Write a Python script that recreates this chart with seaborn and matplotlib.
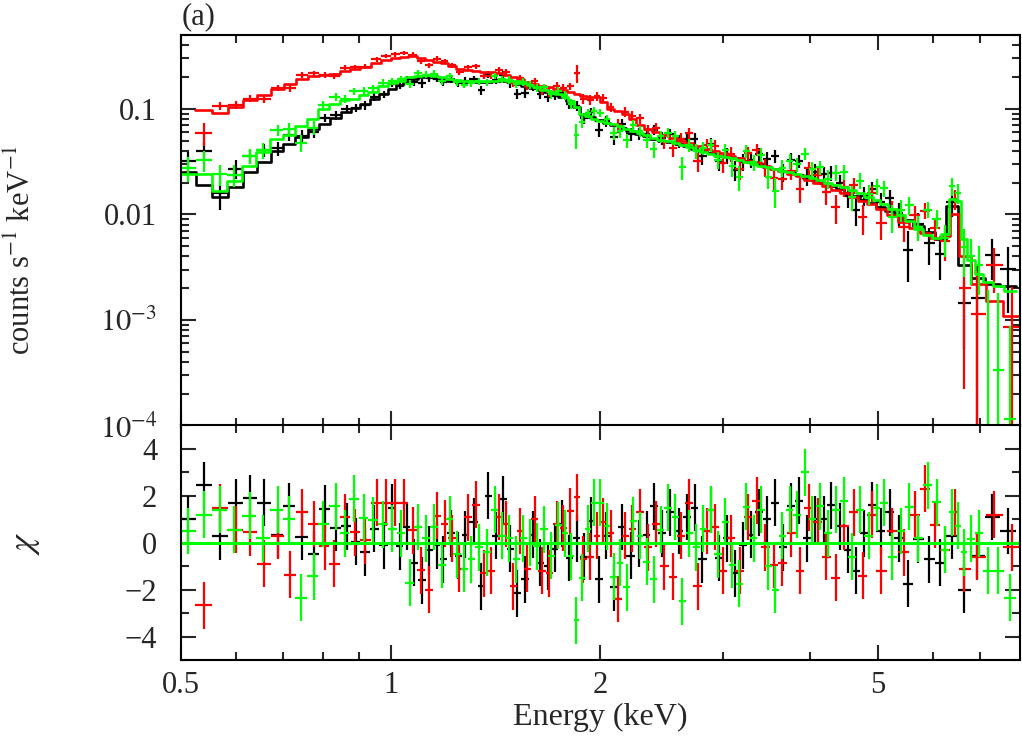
import numpy as np
import matplotlib
matplotlib.use("Agg")
import matplotlib.pyplot as plt
import seaborn as sns
from matplotlib.ticker import FixedLocator, FixedFormatter, NullFormatter, MultipleLocator

# ---------------- data ----------------
# Black spectrum
black_energy = [0.512, 0.539, 0.569, 0.600, 0.628, 0.657, 0.689, 0.714, 0.745, 0.775, 0.804, 0.835, 0.865, 0.891, 0.918, 0.948, 0.977,
                1.006, 1.03, 1.055, 1.08, 1.11, 1.135, 1.165, 1.19, 1.22, 1.25, 1.28, 1.315, 1.35, 1.38, 1.415, 1.45, 1.485, 1.52, 1.56, 1.6,
                1.64, 1.68, 1.72, 1.76, 1.805, 1.85, 1.895, 1.94, 1.99,
                2.04, 2.095, 2.15, 2.21, 2.27, 2.33, 2.39, 2.455, 2.52, 2.59, 2.66, 2.73, 2.80, 2.88, 2.96, 3.04, 3.12, 3.20, 3.29, 3.38,
                3.47, 3.56, 3.66, 3.76, 3.86, 3.96, 4.07, 4.18, 4.29, 4.41, 4.53, 4.65, 4.78, 4.91,
                5.05, 5.2, 5.36, 5.53, 5.72, 5.92, 6.15, 6.4, 6.65, 6.95, 7.3, 7.7]
black_model = [0.025, 0.019, 0.0145, 0.018, 0.025, 0.031, 0.040, 0.046, 0.054, 0.064, 0.071, 0.082, 0.093, 0.102, 0.112, 0.124, 0.138,
               0.155, 0.168, 0.182, 0.193, 0.2, 0.2, 0.195, 0.19, 0.185, 0.182, 0.18, 0.179, 0.179, 0.181, 0.183, 0.182, 0.178, 0.172,
               0.165, 0.157, 0.15, 0.143, 0.137, 0.13, 0.118, 0.105, 0.088, 0.083, 0.078,
               0.074, 0.07, 0.066, 0.062, 0.058, 0.055, 0.052, 0.05, 0.048, 0.046, 0.044, 0.042, 0.040, 0.038, 0.036, 0.035, 0.034,
               0.032, 0.031, 0.030, 0.028, 0.027, 0.026, 0.025, 0.0235, 0.022, 0.021, 0.0198, 0.0185, 0.0172, 0.016, 0.015, 0.0138, 0.0127,
               0.0118, 0.0108, 0.0098, 0.0088, 0.0078, 0.0068, 0.0058, 0.012, 0.0033, 0.0025, 0.0022, 0.0021]
black_chi = [1.0, 2.45, 0.27, 1.7, 1.9, 1.7, 0.35, 1.55, 0.25, -0.5, 1.45, 0.65, 0.7, 0.05, -0.4, 0.6, -0.1,
             1.5, -0.15, 0.67, -0.85, -1.6, -0.3, -0.1, -0.7, 0.4, -0.55, 0.35, 0.9, -1.86, 2.0, 0.3, 1.85, -0.25, -2.15, -1.55, 0.35,
             -0.85, -1.0, -0.25, 0.82, -0.65, 0.2, -0.6, 0.93, -1.55,
             0.3, -1.9, 0.67, -0.55, -0.05, 0.35, 1.55, 0.4, 1.3, 0.5, 1.1, 1.5, -0.7, 1.4, -0.65, 0.2, -1.3, -0.1, 0.35, 1.3,
             1.0, 1.7, -0.2, 1.55, 1.8, 0.2, 1.0, 1.0, 1.6, 0.7, -0.3, -1.2, 0.4, 1.6,
             0.5, 1.3, 0.2, -1.75, 0.15, -0.7, -0.85, 0.3, -2.0, -0.55, 1.1, 0.5]
black_relerr = [0.28, 0.45, 0.33, 0.3, 0.22, 0.18, 0.16, 0.14, 0.13, 0.12, 0.11, 0.1, 0.095, 0.09, 0.09, 0.085, 0.08,
                0.08, 0.08, 0.08, 0.08, 0.08, 0.08, 0.08, 0.08, 0.08, 0.08, 0.08, 0.08, 0.085, 0.085, 0.085, 0.085, 0.09, 0.09, 0.09, 0.09,
                0.095, 0.095, 0.1, 0.1, 0.1, 0.11, 0.12, 0.12, 0.12,
                0.12, 0.12, 0.13, 0.13, 0.13, 0.14, 0.14, 0.14, 0.15, 0.15, 0.15, 0.16, 0.16, 0.16, 0.17, 0.17, 0.17, 0.18, 0.18, 0.18,
                0.19, 0.19, 0.19, 0.2, 0.2, 0.2, 0.21, 0.21, 0.21, 0.22, 0.22, 0.22, 0.23, 0.23,
                0.24, 0.25, 0.26, 0.27, 0.28, 0.3, 0.32, 0.3, 0.28, 0.65, 0.8, 0.9]

# Red spectrum
red_energy = [0.539, 0.569, 0.600, 0.628, 0.657, 0.689, 0.717, 0.747, 0.777, 0.804, 0.83, 0.86, 0.89, 0.92, 0.955, 0.985,
              1.015, 1.045, 1.075, 1.105, 1.135, 1.165, 1.195, 1.225, 1.255, 1.29, 1.325, 1.36, 1.395, 1.43, 1.465, 1.5, 1.535, 1.57,
              1.61, 1.65, 1.69, 1.73, 1.77, 1.81, 1.85, 1.89, 1.935, 1.98,
              2.02, 2.07, 2.12, 2.17, 2.22, 2.28, 2.34, 2.40, 2.47, 2.54, 2.61, 2.68, 2.76, 2.84, 2.92, 3.0, 3.08, 3.17, 3.26, 3.35,
              3.45, 3.55, 3.65, 3.76, 3.87, 3.98, 4.1, 4.22, 4.35, 4.48, 4.62, 4.76, 4.9,
              5.05, 5.25, 5.45, 5.65, 5.85, 6.05, 6.25, 6.45, 6.65, 6.95, 7.35, 7.8]
red_model = [0.098, 0.092, 0.104, 0.12, 0.134, 0.155, 0.173, 0.193, 0.206, 0.21, 0.215, 0.23, 0.24, 0.25, 0.27, 0.29,
             0.3, 0.31, 0.315, 0.305, 0.29, 0.28, 0.27, 0.255, 0.24, 0.232, 0.228, 0.225, 0.222, 0.218, 0.21, 0.2, 0.19, 0.18,
             0.172, 0.165, 0.16, 0.155, 0.15, 0.145, 0.138, 0.133, 0.13, 0.128,
             0.115, 0.1, 0.095, 0.09, 0.08, 0.07, 0.064, 0.06, 0.056, 0.053, 0.05, 0.047, 0.044, 0.042, 0.04, 0.038, 0.036, 0.034,
             0.032, 0.031, 0.029, 0.027, 0.026, 0.024, 0.023, 0.021, 0.02, 0.0185, 0.017, 0.0158, 0.0147, 0.0135, 0.0125,
             0.0112, 0.0098, 0.0085, 0.0075, 0.0066, 0.006, 0.0062, 0.01, 0.004, 0.0022, 0.0015, 0.0011]
red_chi = [-2.66, 1.5, 0.55, 0.45, -0.9, 0.3, -1.37, 1.3, 0.8, -0.15, -0.9, 1.1, 0.45, 0.1, 1.7, 1.7,
           1.7, 1.7, 0.54, -1.18, -2.0, 1.16, 0.81, 0.2, -1.1, 1.08, 1.63, -1.3, -1.2, 1.1, 0.8, -1.85, 0.5, -1.1,
           1.0, -1.2, -1.3, 0.78, 0.63, 1.35, 1.93, -0.7, -0.6, 0.3,
           0.9, 0.4, -2.4, 0.3, 0.6, 1.3, -0.2, 0.8, -1.0, -1.45, 0.3, 1.7, -1.85, 0.5, 0.67, -1.2, 0.2, -1.2, 1.1, 1.8,
           -0.2, -0.95, -0.85, 0.4, -1.2, 1.5, 0.9, -0.6, -1.5, 0.7, 1.3, -1.4, 1.2,
           -1.2, 0.5, -0.4, 1.2, 2.3, 0.77, -0.3, 1.3, -1.1, -0.6, 1.2, -0.2]
red_relerr = [0.15, 0.1, 0.09, 0.08, 0.08, 0.07, 0.07, 0.065, 0.065, 0.06, 0.06, 0.06, 0.06, 0.055, 0.055, 0.055,
              0.055, 0.055, 0.055, 0.055, 0.055, 0.06, 0.06, 0.06, 0.06, 0.06, 0.065, 0.065, 0.065, 0.065, 0.07, 0.07, 0.07, 0.075,
              0.075, 0.08, 0.08, 0.085, 0.085, 0.09, 0.3, 0.1, 0.1, 0.1,
              0.1, 0.1, 0.11, 0.11, 0.12, 0.12, 0.13, 0.13, 0.13, 0.14, 0.14, 0.15, 0.15, 0.15, 0.16, 0.16, 0.17, 0.17, 0.17, 0.18,
              0.18, 0.19, 0.19, 0.19, 0.2, 0.2, 0.2, 0.21, 0.21, 0.22, 0.22, 0.22, 0.22,
              0.22, 0.24, 0.25, 0.27, 0.28, 0.3, 0.32, 0.3, 0.45, 0.8, 1.0, 1.1]

# Green spectrum
green_energy = [0.512, 0.539, 0.569, 0.596, 0.628, 0.655, 0.689, 0.714, 0.743, 0.775, 0.80, 0.834, 0.86, 0.885, 0.915, 0.944, 0.976,
                1.005, 1.035, 1.065, 1.095, 1.125, 1.155, 1.185, 1.215, 1.245, 1.275, 1.305, 1.34, 1.375, 1.41, 1.445, 1.48, 1.515,
                1.55, 1.585, 1.62, 1.66, 1.70, 1.74, 1.78, 1.815, 1.845, 1.88, 1.92, 1.96,
                2.0, 2.045, 2.09, 2.135, 2.18, 2.23, 2.28, 2.33, 2.385, 2.44, 2.5, 2.56, 2.62, 2.68, 2.745, 2.81, 2.88, 2.95, 3.02,
                3.09, 3.165, 3.24, 3.32, 3.4, 3.48, 3.565, 3.65, 3.74, 3.83, 3.93, 4.03, 4.13, 4.24, 4.35, 4.47, 4.59, 4.72, 4.85, 4.98,
                5.1, 5.25, 5.4, 5.55, 5.72, 5.9, 6.08, 6.25, 6.4, 6.52, 6.65, 6.8, 6.98, 7.2, 7.45, 7.75]
green_model = [0.024, 0.024, 0.0165, 0.0206, 0.029, 0.039, 0.052, 0.057, 0.069, 0.08, 0.1, 0.112, 0.12, 0.125, 0.135, 0.145, 0.166,
               0.175, 0.185, 0.198, 0.206, 0.208, 0.205, 0.198, 0.19, 0.186, 0.185, 0.184, 0.183, 0.184, 0.185, 0.186, 0.185, 0.182,
               0.176, 0.168, 0.16, 0.152, 0.145, 0.138, 0.13, 0.118, 0.105, 0.09, 0.085, 0.08,
               0.077, 0.074, 0.071, 0.068, 0.065, 0.062, 0.059, 0.056, 0.053, 0.051, 0.049, 0.047, 0.045, 0.043, 0.041, 0.039, 0.037,
               0.036, 0.035, 0.034, 0.033, 0.031, 0.03, 0.029, 0.028, 0.027, 0.026, 0.025, 0.024, 0.023, 0.022, 0.021, 0.02, 0.019,
               0.018, 0.017, 0.0158, 0.0147, 0.0136,
               0.0125, 0.0112, 0.0098, 0.0086, 0.0072, 0.0064, 0.006, 0.0065, 0.014, 0.0135, 0.0058, 0.0037, 0.0027, 0.0023, 0.0021, 0.0019]
green_chi = [0.5, 1.2, 1.4, 0.56, 1.16, 0.2, 1.4, 1.0, -2.35, -1.42, 0.8, 1.56, 0.41, 1.87, 1.06, 0.96, 0.78,
             0.6, 0.4, -1.7, 0.67, 0.2, 0.67, -0.95, 1.0, -0.5, -1.1, -0.7, -0.2, -0.4, 1.4, 0.3, 0.2, -0.7,
             0.2, 0.0, -0.15, 0.57, -0.55, 0.74, 0.4, -0.57, -3.3, -1.5, 0.6, 1.7,
             1.7, 0.7, -1.45, -0.85, -1.9, 0.93, 0.3, -0.8, -1.55, 0.55, 1.5, 1.1, -2.5, 0.4, -0.2, 0.6, 1.4, -0.5, 0.9,
             -0.95, -1.75, 1.53, 0.2, 1.4, -1.0, -2.0, 0.3, 1.4, 1.2, 3.0, 1.0, 1.55, 0.4, 1.4, 1.8, -0.6, 1.4, 0.3, 1.5,
             1.7, -0.6, 0.5, 1.53, 0.2, 2.45, 1.72, -0.3, 1.3, 0.72, -0.4, 0.17, 0.4, -1.2, -1.2, -2.35]
green_relerr = [0.3, 0.3, 0.33, 0.28, 0.2, 0.18, 0.15, 0.14, 0.13, 0.12, 0.11, 0.1, 0.095, 0.09, 0.09, 0.085, 0.08,
                0.075, 0.075, 0.075, 0.075, 0.075, 0.075, 0.075, 0.075, 0.075, 0.075, 0.075, 0.075, 0.08, 0.08, 0.08, 0.08, 0.085,
                0.085, 0.085, 0.09, 0.09, 0.095, 0.095, 0.1, 0.1, 0.14, 0.11, 0.11, 0.11,
                0.11, 0.11, 0.12, 0.12, 0.12, 0.13, 0.13, 0.13, 0.14, 0.14, 0.14, 0.15, 0.15, 0.15, 0.16, 0.16, 0.16, 0.17, 0.17,
                0.17, 0.18, 0.18, 0.18, 0.19, 0.19, 0.19, 0.2, 0.2, 0.2, 0.21, 0.21, 0.21, 0.22, 0.22, 0.22, 0.23, 0.23, 0.23, 0.24,
                0.24, 0.25, 0.26, 0.27, 0.28, 0.3, 0.3, 0.3, 0.25, 0.25, 0.4, 0.5, 0.6, 0.8, 0.7, 0.4]

series_colors = ["#000000", "#ff0000", "#00ff00"]

energy_range = [0.5, 8.0]
zero_line = [0.0, 0.0]

x_major_ticks = [0.5, 1, 2, 5]
x_major_labels = ["0.5", "1", "2", "5"]
x_minor_ticks = [0.6, 0.7, 0.8, 0.9, 3, 4, 6, 7]
y_major_ticks = [1e-4, 1e-3, 1e-2, 1e-1]
y_major_labels = [r"$10^{-4}$", r"$10^{-3}$", "0.01", "0.1"]

# ---------------- style ----------------
sns.set_style("ticks")
plt.rcParams['font.family'] = ['Liberation Serif', 'DejaVu Serif']
plt.rcParams['mathtext.fontset'] = 'stix'
plt.rcParams['font.size'] = 22
plt.rcParams['axes.linewidth'] = 1.5

fig = plt.figure(figsize=(10.22, 7.4), dpi=100)
ax1 = fig.add_axes([0.177, 0.4250, 0.821, 0.5277])
ax2 = fig.add_axes([0.177, 0.1081, 0.821, 0.3169])


def bin_edges(centers):
    c = np.asarray(centers, dtype=float)
    mid = np.sqrt(c[:-1] * c[1:])
    return np.concatenate([[c[0] ** 2 / mid[0]], mid, [c[-1] ** 2 / mid[-1]]])


datasets = [
    (black_energy, black_model, black_chi, black_relerr),
    (red_energy, red_model, red_chi, red_relerr),
    (green_energy, green_model, green_chi, green_relerr),
]

for (en, mod, chi, rel), col in zip(datasets, series_colors):
    en = np.asarray(en, float)
    mod = np.asarray(mod, float)
    chi = np.asarray(chi, float)
    rel = np.asarray(rel, float)
    edges = bin_edges(en)
    err = rel * mod
    flux = mod + chi * err
    xerr = [en - edges[:-1], edges[1:] - en]
    ax1.errorbar(en, flux, xerr=xerr, yerr=err, fmt='none', ecolor=col, elinewidth=1.6, capsize=0)
    sns.lineplot(x=edges, y=np.append(mod, mod[-1]), ax=ax1, color=col, lw=1.9,
                 drawstyle='steps-post', estimator=None, sort=False, legend=False)
    ax2.errorbar(en, chi, xerr=xerr, yerr=np.ones_like(chi), fmt='none', ecolor=col, elinewidth=1.6, capsize=0)

sns.lineplot(x=energy_range, y=zero_line, ax=ax2, color=series_colors[2], lw=2.2,
             estimator=None, sort=False, legend=False)

for ax in (ax1, ax2):
    ax.set_xscale('log')
    ax.set_xlim(0.5, 8.0)
    ax.xaxis.set_major_locator(FixedLocator(x_major_ticks))
    ax.xaxis.set_minor_locator(FixedLocator(x_minor_ticks))
    ax.xaxis.set_minor_formatter(NullFormatter())
    ax.tick_params(which='both', direction='in', top=True, right=True, width=1.5)
    ax.tick_params(which='major', length=11)
    ax.tick_params(which='minor', length=5.5)
    for s in ax.spines.values():
        s.set_linewidth(1.5)
        s.set_color('black')

ax1.set_yscale('log')
ax1.set_ylim(1e-4, 0.5)
ax1.yaxis.set_major_locator(FixedLocator(y_major_ticks))
ax1.yaxis.set_major_formatter(FixedFormatter(y_major_labels))
ax1.tick_params(axis='x', labelbottom=False)
ax1.tick_params(axis='y', pad=17, labelsize=22)
ax1.set_xlabel("")
ax1.set_ylabel(r"counts s$^{-1}$ keV$^{-1}$", fontsize=22)
ax1.yaxis.set_label_coords(-0.172, 0.45)

ax2.set_ylim(-5, 5)
ax2.yaxis.set_major_locator(MultipleLocator(2))
ax2.yaxis.set_minor_locator(MultipleLocator(1))
ax2.xaxis.set_major_formatter(FixedFormatter(x_major_labels))
ax2.tick_params(axis='x', pad=8, labelsize=22)
ax2.tick_params(axis='y', pad=17, labelsize=22)
ax2.set_xlabel("Energy (keV)", fontsize=23, labelpad=2)
ax2.set_ylabel(r"$\chi$", fontsize=26)
ax2.yaxis.set_label_coords(-0.165, 0.5)

fig.text(182 / 1022, 1 - 2 / 740, "(a)", ha='left', va='top', fontsize=22)

fig.savefig("out.png", dpi=100)
